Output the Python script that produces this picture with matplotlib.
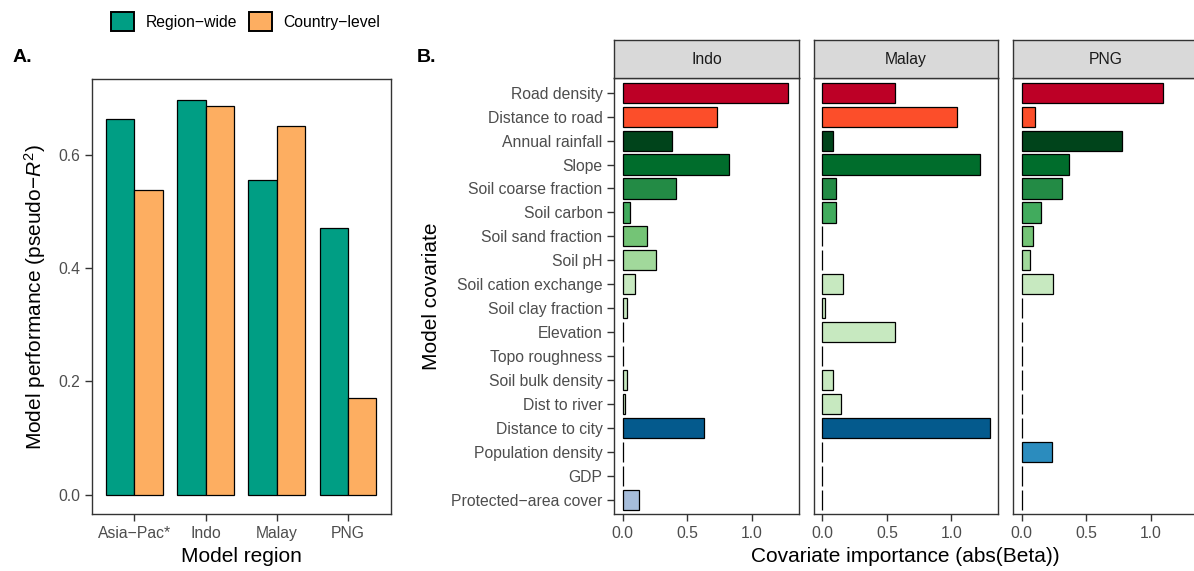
import matplotlib
matplotlib.use("Agg")
import matplotlib.pyplot as plt
import numpy as np
from matplotlib.patches import Patch

plt.rcParams['font.family'] = ['Liberation Sans', 'DejaVu Sans']
plt.rcParams['mathtext.fontset'] = 'custom'
plt.rcParams['mathtext.rm'] = 'Liberation Sans'
plt.rcParams['mathtext.it'] = 'Liberation Sans:italic'

# Panel A: model performance per region
regions = ['Asia−Pac*', 'Indo', 'Malay', 'PNG']
region_wide = [0.665, 0.698, 0.556, 0.472]
country_level = [0.538, 0.688, 0.652, 0.171]

# Panel B: covariate importance per country model
covariates = ['Road density', 'Distance to road', 'Annual rainfall', 'Slope',
              'Soil coarse fraction', 'Soil carbon', 'Soil sand fraction', 'Soil pH',
              'Soil cation exchange', 'Soil clay fraction', 'Elevation', 'Topo roughness',
              'Soil bulk density', 'Dist to river', 'Distance to city',
              'Population density', 'GDP', 'Protected−area cover']
facets = ['Indo', 'Malay', 'PNG']
indo_beta = [1.277, 0.729, 0.381, 0.824, 0.412, 0.057, 0.191, 0.258, 0.093, 0.034,
             0.0, 0.0, 0.034, 0.015, 0.631, 0.0, 0.0, 0.129]
malay_beta = [0.564, 1.043, 0.087, 1.220, 0.110, 0.110, 0.0, 0.0, 0.161, 0.025,
              0.562, 0.0, 0.085, 0.146, 1.297, 0.0, 0.0, 0.0]
png_beta = [1.095, 0.105, 0.774, 0.364, 0.313, 0.151, 0.090, 0.067, 0.241, 0.0,
            0.0, 0.0, 0.0, 0.0, 0.0, 0.231, 0.0, 0.0]

cov_colors = ['#BD0026', '#FC4E2A', '#00441B', '#006D2C', '#238B45', '#41AB5D',
              '#74C476', '#A1D99B', '#C7E9C0', '#C7E9C0', '#C7E9C0', '#C7E9C0',
              '#C7E9C0', '#C7E9C0', '#045A8D', '#2B8CBE', '#74A9CF', '#A6BDDB']

teal = '#009E84'
orange = '#FDAE61'
tick_col = '#4D4D4D'
frame_col = '#333333'
small = 11.3
big = 15

W, H = 1194, 571
fig = plt.figure(figsize=(W / 100, H / 100), dpi=100)


def px_axes(x0, y0, x1, y1):
    # axes from pixel box (top-left origin)
    return fig.add_axes([x0 / W, 1 - y1 / H, (x1 - x0) / W, (y1 - y0) / H])


def style(ax):
    for s in ax.spines.values():
        s.set_color(frame_col)
        s.set_linewidth(1.0)
    ax.tick_params(length=5, width=1.0, color=frame_col, labelcolor=tick_col,
                   labelsize=small, pad=3.5)


# ---- A ----
axA = px_axes(91.7, 79, 390.7, 514.3)
x = np.arange(len(regions))
bw = 0.4
axA.bar(x - bw / 2, region_wide, bw, color=teal, edgecolor='black', linewidth=0.9)
axA.bar(x + bw / 2, country_level, bw, color=orange, edgecolor='black', linewidth=0.9)
axA.set_xlim(-0.6, 3.6)
axA.set_ylim(-0.035, 0.735)
axA.set_xticks(x)
axA.set_xticklabels(regions)
axA.set_yticks([0, 0.2, 0.4, 0.6])
axA.set_yticklabels(['0.0', '0.2', '0.4', '0.6'])
style(axA)
axA.set_ylabel('Model performance (pseudo−$R^2$)', fontsize=big, labelpad=7)
fig.text(241.2 / W, 1 - 562 / H, 'Model region', fontsize=big, ha='center', va='baseline')
fig.text(13 / W, 1 - 62 / H, 'A.', fontsize=14, fontweight='bold', va='baseline')
fig.text(417 / W, 1 - 62 / H, 'B.', fontsize=14, fontweight='bold', va='baseline')

fig.legend(handles=[Patch(facecolor=teal, edgecolor='black', linewidth=1.4, label='Region−wide'),
                    Patch(facecolor=orange, edgecolor='black', linewidth=1.4, label='Country−level')],
           loc='center', bbox_to_anchor=(245.5 / W, 1 - 21.7 / H), ncol=2, frameon=False,
           fontsize=small, handlelength=1.5, handleheight=1.45, handletextpad=0.7,
           columnspacing=0.75, borderpad=0)

# ---- B ----
y = np.arange(len(covariates))
lefts = [614.3, 813.8, 1013.3]
fw = 184.5
for i, (name, vals) in enumerate(zip(facets, [indo_beta, malay_beta, png_beta])):
    ax = px_axes(lefts[i], 78.3, lefts[i] + fw, 514.3)
    ax.barh(y, vals, 0.84, color=cov_colors, edgecolor='black', linewidth=0.9)
    ax.set_ylim(len(covariates) - 0.4, -0.6)
    ax.set_xlim(-0.065, 1.362)
    ax.set_xticks([0, 0.5, 1.0])
    ax.set_xticklabels(['0.0', '0.5', '1.0'])
    style(ax)
    if i == 0:
        ax.set_yticks(y)
        ax.set_yticklabels(covariates)
        ax.set_ylabel('Model covariate', fontsize=big, labelpad=7)
    else:
        ax.set_yticks([])
    # facet strip
    st = px_axes(lefts[i], 40, lefts[i] + fw, 78.3)
    st.set_facecolor('#D9D9D9')
    st.set_xticks([])
    st.set_yticks([])
    for s in st.spines.values():
        s.set_color(frame_col)
        s.set_linewidth(1.0)
    st.text(0.5, 0.5, name, transform=st.transAxes, ha='center', va='center',
            fontsize=small, color='#1A1A1A')

fig.text(905.7 / W, 1 - 562 / H, 'Covariate importance (abs(Beta))', fontsize=big,
         ha='center', va='baseline')

fig.savefig('out.png', dpi=100)
